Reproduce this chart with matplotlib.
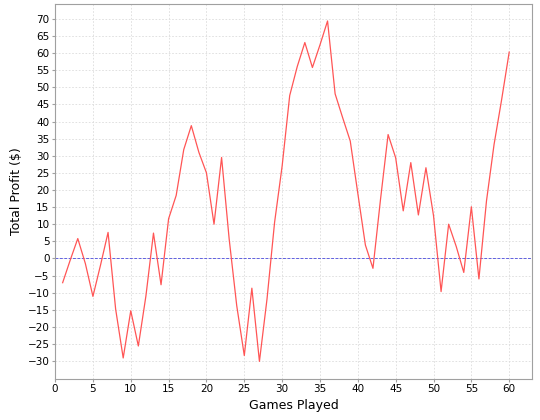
import matplotlib
matplotlib.use('Agg')
import matplotlib.pyplot as plt
import numpy as np

games = list(range(1, 61))
profit = [
    -7.1, -0.5, 5.8, -1.5, -11.1, -2.0, 7.6, -14.8, -29.1, -15.3,
    -25.6, -11.0, 7.4, -7.7, 11.6, 18.4, 31.8, 38.8, 31.0, 25.0,
    10.0, 29.5, 5.7, -13.8, -28.4, -8.7, -30.1, -11.9, 10.5, 27.0,
    47.6, 56.1, 63.1, 55.8, 62.4, 69.4, 48.1, 41.1, 34.3, 19.0,
    3.9, -2.9, 17.3, 36.2, 29.4, 13.9, 28.0, 12.7, 26.5, 12.5,
    -9.7, 10.0, 3.5, -4.1, 15.1, -6.0, 16.8, 33.3, 46.4, 60.3,
]
x_ticks = list(range(0, 61, 5))
y_ticks = list(range(-30, 71, 5))

plt.rcParams['font.family'] = ['DejaVu Sans']

fig = plt.figure(figsize=(5.4, 4.2), dpi=100)
ax = fig.add_axes([0.102, 0.098, 0.883, 0.892])

ax.plot(games, profit, color='#ff5555', linewidth=0.9, zorder=3)
ax.axhline(0, color='#6060e0', linewidth=0.7, linestyle=(0, (3, 1.5)), zorder=2)

ax.set_xlim(0, 63)
ax.set_ylim(-35.2, 74.3)
ax.set_xticks(x_ticks)
ax.set_yticks(y_ticks)
ax.grid(True, color='#dcdcdc', linestyle=(0, (2, 2)), linewidth=0.6)
ax.set_axisbelow(True)
for s in ax.spines.values():
    s.set_color('#a0a0a0')
ax.tick_params(labelsize=7.5, length=2, color='#a0a0a0', pad=2)
ax.set_xlabel('Games Played', fontsize=9, labelpad=3)
ax.set_ylabel('Total Profit ($)', fontsize=9, labelpad=3)

fig.savefig('out.png', dpi=100, facecolor='white')
